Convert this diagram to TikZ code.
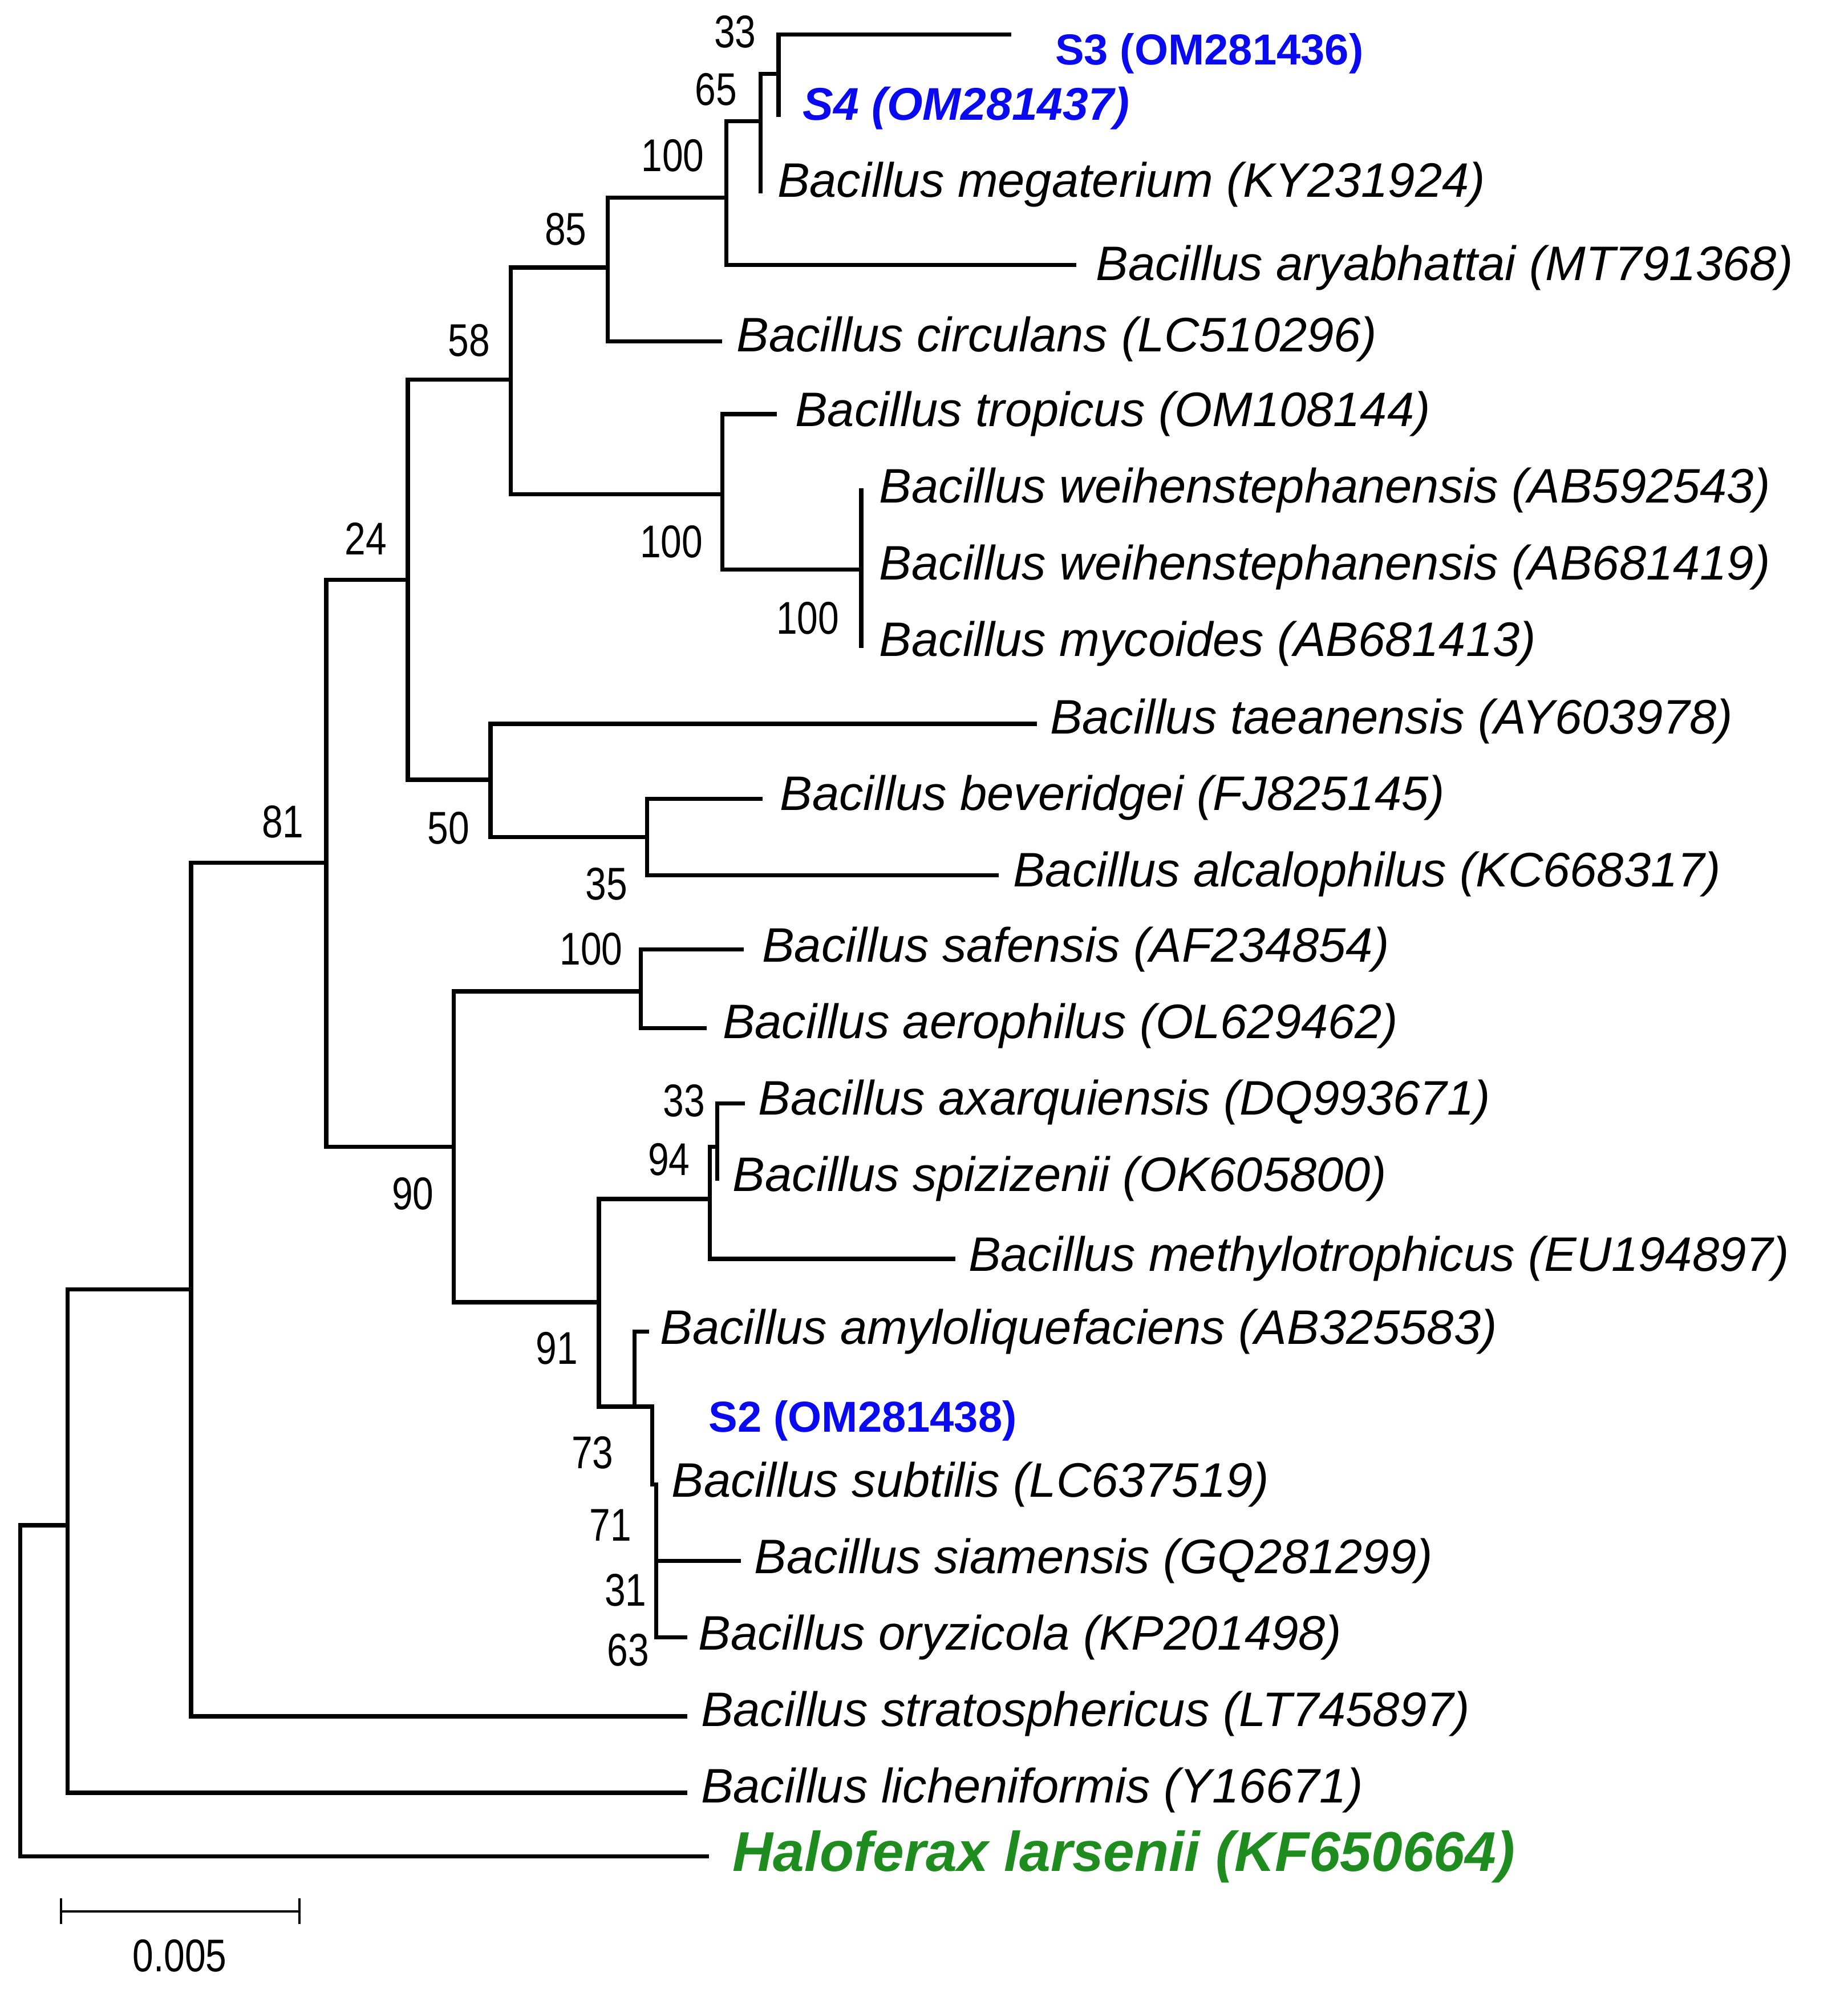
\documentclass[tikz,border=0pt]{standalone}
\usepackage{fontspec}
\setmainfont{Liberation Sans}
\begin{document}
\begin{tikzpicture}[x=1pt,y=-1pt,
  br/.style={line width=3.3pt,line cap=rect},
  lab/.style={anchor=west,font=\fontsize{38}{40}\selectfont\itshape,inner sep=0},
  bs/.style={font=\fontsize{36}{38}\selectfont,xscale=0.82,inner sep=0},
  blu/.style={anchor=west,inner sep=0,text={rgb,255:red,10;green,10;blue,240}}]
\fill[white] (0,0) rectangle (1450,1561);
% tree
\draw[br] (611,27)--(792,27);
\draw[br] (611,27)--(611,90);
\draw[br] (597,58)--(611,58);
\draw[br] (597,58)--(597,150);
\draw[br] (570,95)--(597,95);
\draw[br] (570,95)--(570,208)--(843,208);
\draw[br] (477,155)--(570,155);
\draw[br] (477,155)--(477,268)--(565,268);
\draw[br] (401,210)--(477,210);
\draw[br] (401,210)--(401,388)--(567,388);
\draw[br] (567,325)--(608,325);
\draw[br] (567,325)--(567,447)--(676,447);
\draw[br] (676,385)--(676,507);
\draw[br] (320,298)--(401,298);
\draw[br] (320,298)--(320,612)--(385,612);
\draw[br] (385,568)--(812,568);
\draw[br] (385,568)--(385,657)--(508,657);
\draw[br] (508,627)--(597,627);
\draw[br] (508,627)--(508,687)--(782,687);
\draw[br] (256,455)--(320,455);
\draw[br] (256,455)--(256,900)--(356,900);
\draw[br] (356,778)--(503,778);
\draw[br] (356,778)--(356,1022)--(470,1022);
\draw[br] (503,745)--(582,745);
\draw[br] (503,745)--(503,807)--(553,807);
\draw[br] (470,941)--(557,941);
\draw[br] (470,941)--(470,1104)--(512,1104);
\draw[br] (563,866)--(583,866);
\draw[br] (563,866)--(563,925);
\draw[br] (557,900)--(563,900);
\draw[br] (557,900)--(557,988)--(748,988);
\draw[br] (498,1045)--(508,1045);
\draw[br] (498,1045)--(498,1104);
\draw[br] (512,1104)--(512,1165);
\draw[br] (512,1165)--(515,1165);
\draw[br] (515,1165)--(515,1285)--(538,1285);
\draw[br] (515,1225)--(580,1225);
\draw[br] (150,677)--(256,677);
\draw[br] (150,677)--(150,1347)--(538,1347);
\draw[br] (53,1012)--(150,1012);
\draw[br] (53,1012)--(53,1407)--(538,1407);
\draw[br] (16,1197)--(53,1197);
\draw[br] (16,1197)--(16,1457)--(555,1457);
% scale bar
\draw[line width=2pt] (48,1500)--(235,1500) (48,1490)--(48,1510) (235,1490)--(235,1510);
\node[bs] (sc) at (141,1535) {0.005};
% labels
\node[blu,font=\fontsize{34}{36}\selectfont\bfseries] (s3) at (828,42) {S3 (OM281436)};
\node[blu,font=\fontsize{36}{38}\selectfont\bfseries\itshape] (s4) at (630,85) {S4 (OM281437)};
\node[lab] (l1) at (610,145) {Bacillus megaterium (KY231924)};
\node[lab] (l2) at (860,210) {Bacillus aryabhattai (MT791368)};
\node[lab] (l3) at (578,266) {Bacillus circulans (LC510296)};
\node[lab] (l4) at (624,325) {Bacillus tropicus (OM108144)};
\node[lab] (l5) at (690,385) {Bacillus weihenstephanensis (AB592543)};
\node[lab] (l6) at (690,445) {Bacillus weihenstephanensis (AB681419)};
\node[lab] (l7) at (690,505) {Bacillus mycoides (AB681413)};
\node[lab] (l8) at (824,566) {Bacillus taeanensis (AY603978)};
\node[lab] (l9) at (612,626) {Bacillus beveridgei (FJ825145)};
\node[lab] (l10) at (795,686) {Bacillus alcalophilus (KC668317)};
\node[lab] (l11) at (598,745) {Bacillus safensis (AF234854)};
\node[lab] (l12) at (567,805) {Bacillus aerophilus (OL629462)};
\node[lab] (l13) at (595,865) {Bacillus axarquiensis (DQ993671)};
\node[lab] (l14) at (575,925) {Bacillus spizizenii (OK605800)};
\node[lab] (l15) at (760,988) {Bacillus methylotrophicus (EU194897)};
\node[lab] (l16) at (518,1045) {Bacillus amyloliquefaciens (AB325583)};
\node[blu,font=\fontsize{34}{36}\selectfont\bfseries] (s2) at (556,1115) {S2 (OM281438)};
\node[lab] (l17) at (527,1165) {Bacillus subtilis (LC637519)};
\node[lab] (l18) at (592,1225) {Bacillus siamensis (GQ281299)};
\node[lab] (l19) at (548,1285) {Bacillus oryzicola (KP201498)};
\node[lab] (l20) at (550,1345) {Bacillus stratosphericus (LT745897)};
\node[lab] (l21) at (550,1405) {Bacillus licheniformis (Y16671)};
\node[anchor=west,inner sep=0,font=\fontsize{44}{46}\selectfont\bfseries\itshape,text={rgb,255:red,30;green,140;blue,30}] (h) at (575,1457) {Haloferax larsenii (KF650664)};
% bootstrap
\node[bs] (b1) at (577,25) {33};
\node[bs] (b2) at (562,70) {65};
\node[bs] (b3) at (528,122) {100};
\node[bs] (b4) at (444,180) {85};
\node[bs] (b5) at (368,267) {58};
\node[bs] (b6) at (527,425) {100};
\node[bs] (b7) at (634,485) {100};
\node[bs] (b8) at (287,423) {24};
\node[bs] (b9) at (352,650) {50};
\node[bs] (b10) at (476,694) {35};
\node[bs] (b11) at (222,645) {81};
\node[bs] (b12) at (464,745) {100};
\node[bs] (b13) at (537,864) {33};
\node[bs] (b14) at (525,910) {94};
\node[bs] (b15) at (324,937) {90};
\node[bs] (b16) at (437,1058) {91};
\node[bs] (b17) at (465,1140) {73};
\node[bs] (b18) at (479,1197) {71};
\node[bs] (b19) at (491,1248) {31};
\node[bs] (b20) at (493,1295) {63};
\end{tikzpicture}
\end{document}
